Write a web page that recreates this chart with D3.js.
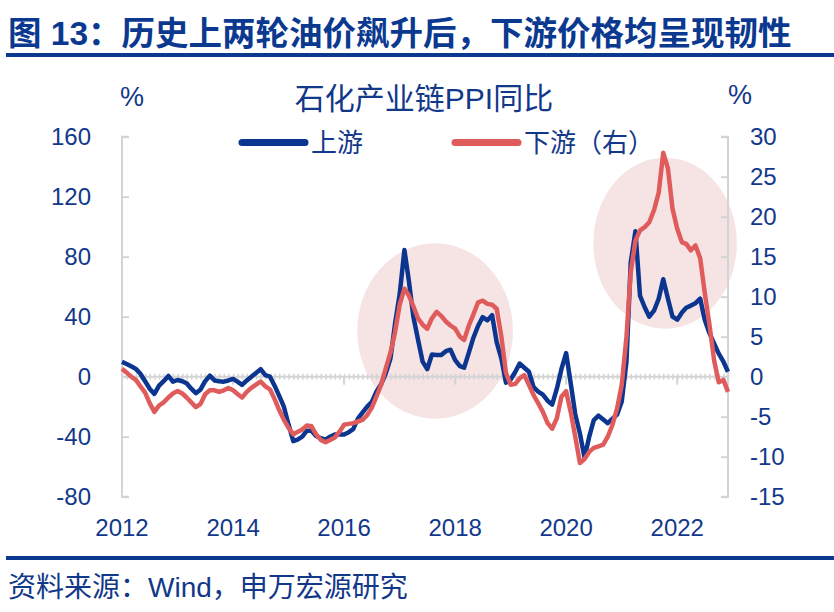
<!DOCTYPE html>
<html>
<head>
<meta charset="utf-8">
<script src="https://cdn.jsdelivr.net/npm/d3@7"></script>
<style>
  body { margin: 0; background: #fff; }
  text { font-family: "Liberation Sans", Arial, "Noto Sans CJK SC", sans-serif; }
</style>
</head>
<body>
<svg id="chart" width="834" height="612"></svg>
<script>
// upstream PPI yoy (%, left axis), monthly Jan 2012 - Dec 2022
const upstream = [
  9.9, 8.5, 7, 5.2, 2, -3, -8, -11.5, -6, -3, 0.5, -3.3,
  -2.2, -3, -4.4, -8, -11, -8.5, -3, 0.7, -2.5, -3, -3.3, -2.5,
  -1.5, -3.5, -5.5, -2.5, 0, 2.5, 5, 1, 0, -6, -13, -20,
  -32, -43, -42, -40, -36, -36, -39.5, -41, -42, -40, -38.5, -38.5,
  -38.5, -37, -35, -28, -24, -20, -17, -10, -5, 2, 12, 35,
  55, 84.5, 65, 40, 25, 10, 5, 14.8, 14.5, 14.4, 17, 18,
  11, 7, 6, 16, 26, 34, 39.7, 37.6, 41, 23, 12, -4,
  -2, 3.3, 8.8, 6, 3.3, -7, -10, -12, -16, -18.6, -8, 5,
  15.7, -5, -25, -38, -54, -40, -29, -26, -28.6, -31, -28, -25.3,
  -16.5, 10, 76, 97, 54, 46.3, 40, 44, 52, 65, 52, 40,
  38, 42.8, 46, 47.4, 49, 52, 38, 29, 22, 15.4, 10, 3.3
];

// downstream PPI yoy (%, right axis)
const downstream = [
  1.0, 0.5, 0, -0.4, -1.2, -2.0, -3.3, -4.4, -3.6, -3.2, -2.6, -2.1,
  -1.8, -2.1, -2.6, -3.2, -3.8, -3.4, -2.2, -1.7, -1.7, -1.9, -1.7, -1.4,
  -1.7, -2.2, -2.6, -1.9, -1.4, -1.0, -0.6, -1.2, -1.6, -2.8, -4.2, -5.4,
  -6.4, -7.2, -6.9, -6.6, -6.1, -6.2, -7.2, -7.9, -8.2, -7.9, -7.6, -6.9,
  -6.0, -5.9, -5.8, -5.6, -5.4, -4.8, -3.9, -2.5, -1.0, 1.0, 3.0, 5.5,
  9.0, 11.0, 10.2, 8.8, 7.3, 6.5, 6.0, 7.3, 8.1, 7.6, 6.9, 6.4,
  6.0, 5.0, 4.6, 6.4, 7.8, 9.3, 9.5, 9.1, 9.0, 8.5, 5.0, 0.5,
  -1.0, -0.9, -0.2, 0.2, -1.0, -2.3, -3.3, -4.4, -5.8, -6.5, -5.2, -2.5,
  -1.8, -4.5, -7.5, -10.8, -10.3, -9.4, -8.9, -8.7, -8.5, -7.5, -6.0, -4.0,
  -1.0, 5.0, 13.0, 17.0, 18.3, 18.7, 19.3, 20.8, 23.0, 28.0, 26.0, 21.0,
  18.5, 16.8, 16.6, 15.8, 16.4, 14.8, 10.5, 6.5, 2.0, -0.7, -0.4, -1.9
];

const leftTicks = [-80, -40, 0, 40, 80, 120, 160];
const rightTicks = [-15, -10, -5, 0, 5, 10, 15, 20, 25, 30];
const yearTicks = [2012, 2014, 2016, 2018, 2020, 2022];
const seriesNames = ["上游", "下游（右）"];

// shaded periods: date span and left-axis value span
const highlights = [
  { from: "2016-03-28", to: "2019-01-16", lo: -28, hi: 89 },
  { from: "2020-06-28", to: "2023-01-28", lo: 32, hi: 146 }
];

const BLUE = "#0c3590";
const RED = "#e05c5c";
const TXT = "#12388a";
const AXIS = "#d4d4d4";
const CJK = "'Noto Sans CJK SC', sans-serif";

const months = d3.timeMonth.range(new Date(2012, 0, 1), new Date(2023, 0, 1));
const parse = d3.timeParse("%Y-%m-%d");

const svg = d3.select("#chart");

const x = d3.scaleTime()
  .domain([months[0], months[months.length - 1]])
  .range([122, 728]);
const yL = d3.scaleLinear().domain([-80, 160]).range([496.7, 136.7]);
const yR = d3.scaleLinear().domain([-15, 30]).range([496.7, 136.7]);

// title + rules
svg.append("text")
  .text("图 13：历史上两轮油价飙升后，下游价格均呈现韧性")
  .attr("x", 8)
  .attr("y", 45)
  .attr("font-size", "33.5px")
  .attr("font-weight", "bold")
  .attr("fill", "#0b3990")
  .attr("font-family", CJK);

svg.append("rect").attr("x", 6).attr("y", 53).attr("width", 828).attr("height", 4).attr("fill", "#0b3990");
svg.append("rect").attr("x", 6).attr("y", 556).attr("width", 828).attr("height", 4).attr("fill", "#0b3990");

svg.append("text")
  .text("资料来源：Wind，申万宏源研究")
  .attr("x", 8)
  .attr("y", 597)
  .attr("font-size", "28px")
  .attr("fill", TXT)
  .attr("font-family", CJK);

// chart heading and unit labels
svg.append("text")
  .text("石化产业链PPI同比")
  .attr("x", 424)
  .attr("y", 109)
  .attr("text-anchor", "middle")
  .attr("font-size", "30px")
  .attr("fill", TXT)
  .attr("font-family", CJK);

svg.append("text").text("%").attr("x", 120).attr("y", 106).attr("font-size", "27px").attr("fill", TXT);
svg.append("text").text("%").attr("x", 728).attr("y", 104).attr("font-size", "27px").attr("fill", TXT);

// highlight ellipses
svg.append("g")
  .selectAll("ellipse")
  .data(highlights)
  .join("ellipse")
  .attr("cx", (d) => (x(parse(d.from)) + x(parse(d.to))) / 2)
  .attr("cy", (d) => (yL(d.lo) + yL(d.hi)) / 2)
  .attr("rx", (d) => (x(parse(d.to)) - x(parse(d.from))) / 2)
  .attr("ry", (d) => (yL(d.lo) - yL(d.hi)) / 2)
  .attr("fill", "#eec8c8")
  .attr("opacity", 0.5);

// left axis
const gL = svg.append("g")
  .attr("transform", "translate(122,0)")
  .call(d3.axisRight(yL).tickValues(leftTicks).tickSize(7).tickFormat(""));
gL.select(".domain").attr("stroke", AXIS).attr("stroke-width", 2).attr("d", "M7,136.7H0V496.7H7");
gL.selectAll(".tick line").attr("stroke", AXIS).attr("stroke-width", 2);

svg.append("g")
  .selectAll("text")
  .data(leftTicks)
  .join("text")
  .text((d) => d)
  .attr("x", 91)
  .attr("y", (d) => yL(d) + 8.5)
  .attr("text-anchor", "end")
  .attr("font-size", "24px")
  .attr("fill", TXT);

// right axis
const gR = svg.append("g")
  .attr("transform", "translate(728,0)")
  .call(d3.axisLeft(yR).tickValues(rightTicks).tickSize(7).tickFormat(""));
gR.select(".domain").attr("stroke", AXIS).attr("stroke-width", 2).attr("d", "M-7,136.7H0V496.7H-7");
gR.selectAll(".tick line").attr("stroke", AXIS).attr("stroke-width", 2);

svg.append("g")
  .selectAll("text")
  .data(rightTicks)
  .join("text")
  .text((d) => d)
  .attr("x", 750)
  .attr("y", (d) => yR(d) + 8.5)
  .attr("font-size", "24px")
  .attr("fill", TXT);

// x axis on the zero line, with monthly hatch ticks
const y0 = yL(0);
const gX = svg.append("g")
  .attr("transform", "translate(0," + y0 + ")")
  .call(d3.axisBottom(x).tickValues(months).tickSize(3).tickFormat(""));
gX.select(".domain").attr("stroke", AXIS).attr("stroke-width", 2).attr("d", "M122,0H728");
gX.selectAll(".tick line").attr("stroke", AXIS).attr("stroke-width", 1.5).attr("y1", -3).attr("y2", 3);

svg.append("g")
  .selectAll("line")
  .data(yearTicks)
  .join("line")
  .attr("x1", (d) => x(new Date(d, 0, 1)))
  .attr("x2", (d) => x(new Date(d, 0, 1)))
  .attr("y1", y0)
  .attr("y2", y0 + 8)
  .attr("stroke", AXIS)
  .attr("stroke-width", 2);

svg.append("g")
  .selectAll("text")
  .data(yearTicks)
  .join("text")
  .text((d) => d)
  .attr("x", (d) => x(new Date(d, 0, 1)))
  .attr("y", 536)
  .attr("text-anchor", "middle")
  .attr("font-size", "24px")
  .attr("fill", TXT);

// series
const lineL = d3.line().x((d, i) => x(months[i])).y((d) => yL(d));
const lineR = d3.line().x((d, i) => x(months[i])).y((d) => yR(d));

svg.append("path")
  .datum(upstream)
  .attr("d", lineL)
  .attr("fill", "none")
  .attr("stroke", BLUE)
  .attr("stroke-width", 4.5)
  .attr("stroke-linejoin", "round");

svg.append("path")
  .datum(downstream)
  .attr("d", lineR)
  .attr("fill", "none")
  .attr("stroke", RED)
  .attr("stroke-width", 4.5)
  .attr("stroke-linejoin", "round");

// legend
const legend = svg.append("g")
  .selectAll("g")
  .data(seriesNames)
  .join("g")
  .attr("transform", (d, i) => "translate(" + (242 + i * 213) + ",142.5)");

legend.append("line")
  .attr("x1", 0)
  .attr("x2", 63)
  .attr("stroke", (d, i) => (i === 0 ? BLUE : RED))
  .attr("stroke-width", 7)
  .attr("stroke-linecap", "round");

legend.append("text")
  .text((d) => d)
  .attr("x", 69)
  .attr("y", 9.5)
  .attr("font-size", "26px")
  .attr("fill", TXT)
  .attr("font-family", CJK);
</script>
</body>
</html>
